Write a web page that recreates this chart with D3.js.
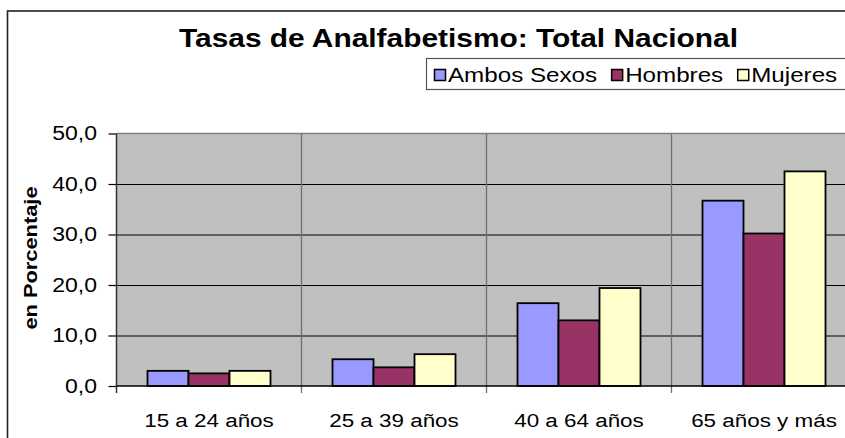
<!DOCTYPE html>
<html>
<head>
<meta charset="utf-8">
<script src="https://cdn.jsdelivr.net/npm/d3@7/dist/d3.min.js"></script>
<style>
  body { margin: 0; background: #fff; }
  text { font-family: Arial, "Liberation Sans", sans-serif; fill: #000; }
</style>
</head>
<body>
<svg></svg>
<script>
var width = 845;
var height = 438;

var categories = ['15 a 24 años', '25 a 39 años', '40 a 64 años', '65 años y más'];
var seriesNames = ['Ambos Sexos', 'Hombres', 'Mujeres'];
var ambosSexos = [3.0, 5.3, 16.4, 36.7];
var hombres = [2.5, 3.7, 13.0, 30.2];
var mujeres = [3.0, 6.3, 19.4, 42.5];
var yTicks = [0, 10, 20, 30, 40, 50];
var colors = ['#9999FF', '#993366', '#FFFFCC'];

// text in the original is drawn a little wider than Arial
var stretch = 1.18;

var plotLeft = 116.5;
var plotTop = 133.5;
var plotBottom = 386;
var catWidth = 185;

var seriesValues = [ambosSexos, hombres, mujeres];

var svg = d3.select('svg')
      .attr('width', width)
      .attr('height', height);

//outer chart border
svg.append('rect')
  .attr('x', 7.5)
  .attr('y', 11)
  .attr('width', 900)
  .attr('height', 500)
  .attr('fill', '#fff')
  .attr('stroke', '#222')
  .attr('stroke-width', 1.6);

var xScale = d3.scaleBand()
      .domain(categories)
      .range([plotLeft, plotLeft + categories.length * catWidth]);

var xInner = d3.scaleBand()
      .domain(seriesNames)
      .range([31, catWidth - 31]);

var yScale = d3.scaleLinear()
      .domain([0, 50])
      .range([plotBottom, plotTop]);

var plotRight = xScale.range()[1];

//plot background
svg.append('rect')
  .attr('x', plotLeft)
  .attr('y', plotTop)
  .attr('width', plotRight - plotLeft)
  .attr('height', plotBottom - plotTop)
  .attr('fill', '#C0C0C0');

//horizontal gridlines
var grid = d3.axisLeft(yScale)
      .tickValues(yTicks.slice(1, -1))
      .tickSize(-(plotRight - plotLeft))
      .tickFormat('');

svg.append('g')
  .attr('transform', `translate(${plotLeft}, 0)`)
  .call(grid)
  .call(g => g.select('.domain').remove())
  .call(g => g.selectAll('line').attr('stroke', '#000').attr('stroke-width', 1.2));

//top border of the plot
svg.append('line')
  .attr('x1', plotLeft).attr('x2', plotRight)
  .attr('y1', yScale(50)).attr('y2', yScale(50))
  .attr('stroke', '#808080')
  .attr('stroke-width', 1.5);

//category separators (extend below axis as ticks)
svg.append('g')
  .selectAll('line')
  .data(categories.slice(1))
  .enter()
  .append('line')
  .attr('x1', d => xScale(d))
  .attr('x2', d => xScale(d))
  .attr('y1', plotTop)
  .attr('y2', plotBottom + 7)
  .attr('stroke', '#707070')
  .attr('stroke-width', 1.3);

//bars
var groups = svg.append('g')
  .selectAll('g')
  .data(categories)
  .enter()
  .append('g')
  .attr('transform', d => `translate(${xScale(d)}, 0)`);

groups.selectAll('rect')
  .data((d, i) => seriesNames.map((s, j) => ({ s: s, j: j, v: seriesValues[j][i] })))
  .enter()
  .append('rect')
  .attr('x', d => xInner(d.s))
  .attr('y', d => yScale(d.v))
  .attr('width', xInner.bandwidth())
  .attr('height', d => plotBottom - yScale(d.v))
  .attr('fill', d => colors[d.j])
  .attr('stroke', '#000')
  .attr('stroke-width', 1.8);

//y axis
var locale = d3.formatLocale({ decimal: ',', thousands: '.', grouping: [3], currency: ['', ''] });
var yAxis = d3.axisLeft(yScale)
      .tickValues(yTicks)
      .tickSize(8)
      .tickFormat(locale.format('.1f'));

svg.append('g')
  .attr('transform', `translate(${plotLeft}, 0)`)
  .call(yAxis)
  .call(g => g.select('.domain').remove())
  .call(g => g.selectAll('line').attr('stroke', '#000').attr('stroke-width', 1.2))
  .call(g => g.selectAll('text')
    .attr('x', 0)
    .attr('transform', `translate(-19.5, 0) scale(${stretch}, 1)`)
    .style('font-size', '19.5px')
    .style('font-family', 'Arial, "Liberation Sans", sans-serif'));

svg.append('line')
  .attr('x1', plotLeft).attr('x2', plotLeft)
  .attr('y1', plotTop).attr('y2', plotBottom + 7)
  .attr('stroke', '#333')
  .attr('stroke-width', 1.5);

//x axis
var xAxis = d3.axisBottom(xScale).tickSize(0);

svg.append('g')
  .attr('transform', `translate(0, ${plotBottom})`)
  .call(xAxis)
  .call(g => g.select('.domain').remove())
  .call(g => g.selectAll('text')
    .attr('y', 0)
    .attr('dy', null)
    .attr('transform', `translate(0, 40.5) scale(${stretch}, 1)`)
    .style('font-size', '19px')
    .style('font-family', 'Arial, "Liberation Sans", sans-serif'));

svg.append('line')
  .attr('x1', plotLeft).attr('x2', plotRight)
  .attr('y1', plotBottom).attr('y2', plotBottom)
  .attr('stroke', '#000')
  .attr('stroke-width', 1.5);

//y-axis label
svg.append('text')
  .attr('transform', `translate(36.5, 258) rotate(-90) scale(${stretch}, 1)`)
  .style('text-anchor', 'middle')
  .style('font-size', '18.5px')
  .style('font-weight', 'bold')
  .text('en Porcentaje');

//title
svg.append('text')
  .attr('transform', `translate(458.5, 46.5) scale(1.15, 1)`)
  .style('text-anchor', 'middle')
  .style('font-size', '26px')
  .style('font-weight', 'bold')
  .text('Tasas de Analfabetismo: Total Nacional');

//legend
var legend = svg.append('g');

legend.append('rect')
  .attr('x', 426.5)
  .attr('y', 58.5)
  .attr('width', 450)
  .attr('height', 31)
  .attr('fill', '#fff')
  .attr('stroke', '#555')
  .attr('stroke-width', 1.2);

var lx = 434;
seriesNames.forEach(function(name, i) {
  legend.append('rect')
    .attr('x', lx + 0.5)
    .attr('y', 69.5)
    .attr('width', 11)
    .attr('height', 11)
    .attr('fill', colors[i])
    .attr('stroke', '#000')
    .attr('stroke-width', 1.5);
  var t = legend.append('text')
    .attr('transform', `translate(${lx + 14}, 82) scale(${stretch}, 1)`)
    .style('font-size', '20.5px')
    .text(name);
  lx += 14 + t.node().getComputedTextLength() * stretch + 14;
});
</script>
</body>
</html>
